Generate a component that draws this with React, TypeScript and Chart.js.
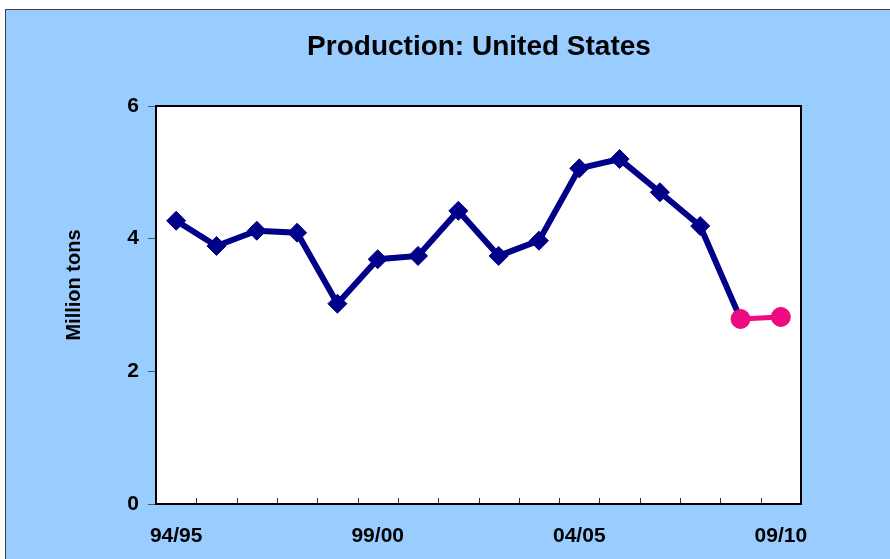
import React, { useEffect, useRef } from "react";
import { Chart, registerables } from "chart.js";

Chart.register(...registerables);

const categories = [
  "94/95", "95/96", "96/97", "97/98", "98/99", "99/00", "00/01", "01/02",
  "02/03", "03/04", "04/05", "05/06", "06/07", "07/08", "08/09", "09/10",
];
const shownLabels = ["94/95", "99/00", "04/05", "09/10"];
const productionValues = [
  4.27, 3.89, 4.12, 4.09, 3.02, 3.69, 3.74, 4.42, 3.74, 3.97, 5.06, 5.2, 4.7, 4.19, 2.79, null,
];
const forecastValues = [
  null, null, null, null, null, null, null, null, null, null, null, null, null, null, 2.79, 2.82,
];
const yTicks = [0, 2, 4, 6];

const titleText = "Production: United States";
const yTitleText = "Million tons";

const FONT = '"Liberation Sans", Arial, sans-serif';
const BLUE = "#000088";
const PINK = "#EE0A80";

const W = 884;
const H = 549;

const decorPlugin = {
  id: "decor",
  beforeDraw(chart: any) {
    const { ctx, chartArea: a } = chart;
    ctx.save();
    ctx.fillStyle = "#ffffff";
    ctx.fillRect(a.left, a.top, a.right - a.left, a.bottom - a.top);
    ctx.restore();
  },
  afterDraw(chart: any) {
    const { ctx, chartArea: a } = chart;
    const xs = chart.scales.x;
    ctx.save();
    ctx.strokeStyle = "#333333";
    ctx.lineWidth = 1;
    const n = categories.length;
    for (let i = 0; i < n - 1; i++) {
      const x = Math.round((xs.getPixelForValue(i) + xs.getPixelForValue(i + 1)) / 2) + 0.5;
      ctx.beginPath();
      ctx.moveTo(x, a.bottom);
      ctx.lineTo(x, a.bottom - 6);
      ctx.stroke();
    }
    ctx.strokeStyle = "#000000";
    ctx.lineWidth = 2;
    ctx.strokeRect(a.left, a.top, a.right - a.left, a.bottom - a.top);
    ctx.fillStyle = "#000000";
    ctx.font = `bold 28px ${FONT}`;
    ctx.textAlign = "center";
    ctx.textBaseline = "alphabetic";
    ctx.fillText(titleText, 473, 45);
    ctx.translate(74, 275);
    ctx.rotate(-Math.PI / 2);
    ctx.font = `bold 20px ${FONT}`;
    ctx.fillText(yTitleText, 0, 0);
    ctx.restore();
  },
};

export default function App() {
  const ref = useRef<HTMLCanvasElement | null>(null);

  useEffect(() => {
    if (!ref.current) return;
    const chart = new Chart(ref.current, {
      type: "line",
      data: {
        labels: categories,
        datasets: [
          {
            label: "Forecast",
            data: forecastValues,
            borderColor: PINK,
            backgroundColor: PINK,
            borderWidth: 5,
            pointStyle: "circle",
            pointRadius: 9.5,
            pointBorderWidth: 1,
            pointBackgroundColor: PINK,
            pointBorderColor: PINK,
            order: 0,
            spanGaps: false,
          },
          {
            label: "Production",
            data: productionValues,
            borderColor: BLUE,
            backgroundColor: BLUE,
            borderWidth: 6,
            pointStyle: "rectRot",
            pointRadius: (c: any) => (c.dataIndex === 14 ? 0 : 9.5),
            pointBorderWidth: 1,
            pointBackgroundColor: BLUE,
            pointBorderColor: BLUE,
            order: 1,
            spanGaps: false,
          },
        ],
      },
      options: {
        responsive: false,
        animation: false,
        events: [],
        layout: { padding: { left: 0, right: 89, top: 96, bottom: 0 } },
        plugins: {
          legend: { display: false },
          title: { display: false },
          tooltip: { enabled: false },
        },
        scales: {
          x: {
            type: "category",
            offset: true,
            afterFit(scale: any) {
              scale.height = H - 494;
            },
            grid: { display: true, offset: true, drawOnChartArea: false, drawTicks: false },
            border: { display: false },
            ticks: {
              autoSkip: false,
              maxRotation: 0,
              padding: 20,
              color: "#000000",
              font: { family: FONT, size: 21, weight: "bold" },
              callback: (_v: any, i: number) =>
                shownLabels.includes(categories[i]) ? categories[i] : "",
            },
          },
          y: {
            min: 0,
            max: 6,
            afterFit(scale: any) {
              scale.width = 150;
            },
            afterBuildTicks(scale: any) {
              scale.ticks = yTicks.map((v) => ({ value: v }));
            },
            grid: {
              drawOnChartArea: false,
              drawTicks: true,
              tickLength: 8,
              color: "#555555",
              lineWidth: 1,
            },
            border: { display: false },
            ticks: {
              padding: 9,
              color: "#000000",
              font: { family: FONT, size: 21, weight: "bold" },
            },
          },
        },
      },
      plugins: [decorPlugin],
    });
    return () => chart.destroy();
  }, []);

  return (
    <div style={{ position: "fixed", left: 0, top: 0, right: 0, bottom: 0, overflow: "hidden", background: "#ffffff" }}>
      <div
        style={{
          position: "absolute",
          left: 5,
          top: 9,
          width: 946,
          height: 560,
          border: "1px solid #404040",
          background: "#99CCFF",
        }}
      >
        <canvas ref={ref} width={W} height={H} style={{ display: "block", width: W, height: H }} />
      </div>
    </div>
  );
}
